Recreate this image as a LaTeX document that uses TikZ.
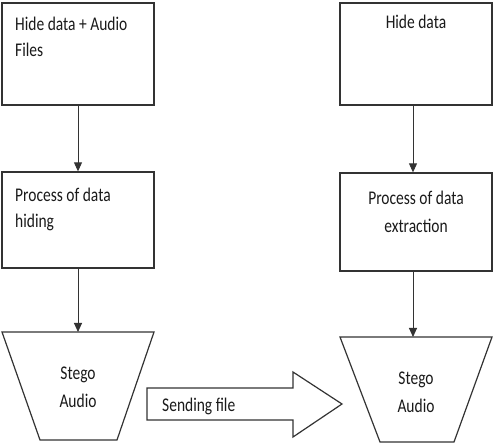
\documentclass[tikz,border=0pt]{standalone}
\usepackage{fontspec}
\usepackage{graphicx}
\setmainfont{Carlito}
\usetikzlibrary{arrows.meta,calc}
\definecolor{linegray}{HTML}{333333}
\definecolor{textgray}{HTML}{1A1A1A}
\newcommand{\tallt}[1]{\scalebox{1}[1.25]{#1}}
\begin{document}
\begin{tikzpicture}[x=1pt,y=-1pt,
  box/.style={draw=linegray, line width=1.3pt, rectangle, inner sep=0pt},
  txt/.style={font=\fontsize{15.5}{27}\selectfont, text=textgray, inner sep=0pt},
  conn/.style={draw=linegray, line width=0.9pt, -{Triangle[width=8pt,length=9pt]}},
  shapeline/.style={draw=linegray, line width=1.2pt, line join=miter}
]
\useasboundingbox (0,0) rectangle (493,446);
\fill[white] (0,0) rectangle (493,446);

% left column
\node[box, minimum width=152pt, minimum height=102pt] (l1) at (78,54) {};
\node[box, minimum width=152pt, minimum height=96pt] (l2) at (78,220) {};
\draw[shapeline] (2,332) -- (154,332) -- (117,440) -- (40,440) -- cycle;
\coordinate (lt) at (78,332);

\node[txt, anchor=base west] (l1a) at (15,31) {\tallt{Hide data + Audio}};
\node[txt, anchor=base west] (l1b) at (15,57) {\tallt{Files}};
\node[txt, anchor=base west] (l2a) at (15,202) {\tallt{Process of data}};
\node[txt, anchor=base west] (l2b) at (15,228) {\tallt{hiding}};
\node[txt, anchor=base] (l3a) at (78,380) {\tallt{Stego}};
\node[txt, anchor=base] (l3b) at (78,408) {\tallt{Audio}};

\draw[conn] (l1.south) -- (l2.north);
\draw[conn] (l2.south) -- (lt);

% right column
\node[box, minimum width=152pt, minimum height=102pt] (r1) at (416,54) {};
\node[box, minimum width=152pt, minimum height=98pt] (r2) at (416,222) {};
\draw[shapeline] (340,337) -- (492,337) -- (454,442) -- (380,442) -- cycle;
\coordinate (ax) at (413,0);
\coordinate (rt) at (413,337);

\node[txt, anchor=base] (r1a) at (416,29) {\tallt{Hide data}};
\node[txt, anchor=base] (r2a) at (416,205) {\tallt{Process of data}};
\node[txt, anchor=base] (r2b) at (416,233) {\tallt{extraction}};
\node[txt, anchor=base] (r3a) at (416,385) {\tallt{Stego}};
\node[txt, anchor=base] (r3b) at (416,413) {\tallt{Audio}};

\draw[conn] (r1.south -| ax) -- (r2.north -| ax);
\draw[conn] (r2.south -| ax) -- (rt);

% sending arrow
\draw[shapeline] (147,388) -- (293,388) -- (293,372) -- (342,404) -- (293,437) -- (293,420) -- (147,420) -- cycle;
\node[txt, anchor=base west] (send) at (162,412) {\tallt{Sending file}};
\end{tikzpicture}
\end{document}
